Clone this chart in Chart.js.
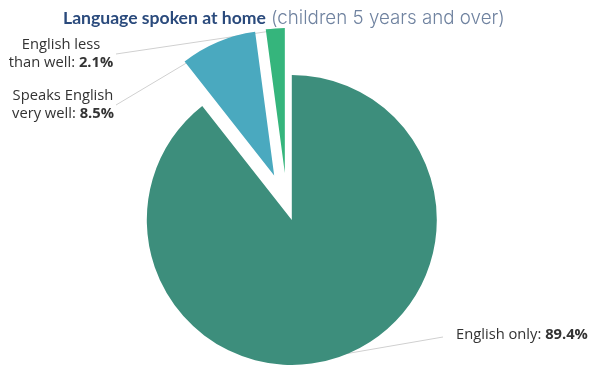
<!DOCTYPE html>
<html>
<head>
<meta charset="utf-8">
<script src="https://cdn.jsdelivr.net/npm/chart.js@4/dist/chart.umd.min.js"></script>
<style>
  html, body { margin: 0; padding: 0; background: #fff; }
  #wrap { position: relative; width: 592px; height: 368px; }
</style>
</head>
<body>
<div id="wrap"><canvas id="c" width="592" height="368"></canvas></div>
<script>
// ---- data ----
const categories = ['English only', 'Speaks English very well', 'English less than well'];
const values = [89.4, 8.5, 2.1];
const labelLines = [
  ['English only:'],
  ['Speaks English', 'very well:'],
  ['English less', 'than well:']
];
const valueLabels = ['89.4%', '8.5%', '2.1%'];
const titleMain = 'Language spoken at home';
const titleSub = '(children 5 years and over)';

// ---- styling ----
const colors = ['#3d8e7c', '#4aa9bf', '#35b57c'];
const explodePx = [14.7, 33, 33];      // visual explode distance of each slice
const R = 145;
const offsets = explodePx.map(d => d * 4);   // Chart.js translates by offset/4

// Chart.js also enlarges the radius and trims the arc angle of exploded
// slices; compensate so every slice keeps radius R and its true angle.
const explodeFix = {
  id: 'explodeFix',
  afterDatasetUpdate(chart, args) {
    const meta = chart.getDatasetMeta(args.index);
    meta.data.forEach((el, i) => {
      const t = offsets[i] / 4;
      const rO = t * (1 - Math.sin(Math.min(Math.PI, el.circumference)));
      el.outerRadius = R - rO;
      const extra = rO / (Math.PI * R) / 2;
      el.startAngle -= extra;
      el.endAngle += extra;
    });
  }
};

const labelFont = '"Open Sans", sans-serif';
const labelColor = '#333333';
const labelPlace = [
  { align: 'left',   x: 456, y: 335, lx: 443, ly: 337 },
  { align: 'center', x: 63,  y: 105, lx: 116, ly: 105 },
  { align: 'center', x: 61,  y: 54,  lx: 116, ly: 54 }
];
const lineH = 18;

function outerMid(el, i) {
  const half = (el.startAngle + el.endAngle) / 2;
  const d = offsets[i] / 4 + R - 2;
  return { x: el.x + Math.cos(half) * d, y: el.y + Math.sin(half) * d };
}

const calloutPlugin = {
  id: 'callouts',
  beforeDatasetsDraw(chart) {
    const ctx = chart.ctx;
    const arcs = chart.getDatasetMeta(0).data;
    ctx.save();
    ctx.strokeStyle = '#d0d0d0';
    ctx.lineWidth = 1;
    arcs.forEach((el, i) => {
      const p = outerMid(el, i);
      const L = labelPlace[i];
      ctx.beginPath();
      ctx.moveTo(L.lx, L.ly);
      ctx.lineTo(p.x, p.y);
      ctx.stroke();
    });
    ctx.restore();
  },
  afterDraw(chart) {
    const ctx = chart.ctx;
    ctx.save();
    ctx.font = '13px ' + labelFont;
    let wr = ctx.measureText(labelLines[0][0] + ' ').width;
    ctx.font = 'bold 13px ' + labelFont;
    wr += ctx.measureText(valueLabels[0]).width;
    const labelSize = 13 * 132 / wr;

    ctx.textBaseline = 'middle';
    ctx.fillStyle = labelColor;
    labelPlace.forEach((L, i) => {
      const lines = labelLines[i];
      const n = lines.length;
      const y0 = L.y - (n - 1) * lineH / 2;
      lines.forEach((txt, j) => {
        const y = y0 + j * lineH;
        const last = j === n - 1;
        ctx.font = labelSize + 'px ' + labelFont;
        const reg = last ? txt + ' ' : txt;
        const wReg = ctx.measureText(reg).width;
        let wBold = 0;
        if (last) {
          ctx.font = 'bold ' + labelSize + 'px ' + labelFont;
          wBold = ctx.measureText(valueLabels[i]).width;
        }
        const w = wReg + wBold;
        const x = L.align === 'left' ? L.x : L.x - w / 2;
        ctx.textAlign = 'left';
        ctx.font = labelSize + 'px ' + labelFont;
        ctx.fillText(reg, x, y);
        if (last) {
          ctx.font = 'bold ' + labelSize + 'px ' + labelFont;
          ctx.fillText(valueLabels[i], x + wReg, y);
        }
      });
    });

    // title
    ctx.textBaseline = 'alphabetic';
    ctx.textAlign = 'left';
    const mainFont = s => 'bold ' + s + 'px Lato, sans-serif';
    const subFont = s => '300 ' + s + 'px Inter, sans-serif';
    ctx.font = mainFont(16);
    const mSize = 16 * 203 / ctx.measureText(titleMain).width;
    ctx.font = subFont(16);
    const sSize = 16 * 234 / ctx.measureText(titleSub).width;
    const base = 24;
    ctx.font = mainFont(mSize);
    ctx.fillStyle = '#2a4a7c';
    ctx.fillText(titleMain, 63, base);
    ctx.font = subFont(sSize);
    ctx.fillStyle = '#7083a0';
    ctx.fillText(titleSub, 271, base);
    ctx.restore();
  }
};

new Chart(document.getElementById('c'), {
  type: 'pie',
  data: {
    labels: categories,
    datasets: [{
      data: values,
      backgroundColor: colors,
      borderWidth: 0,
      offset: offsets,
      radius: R,
      clip: false
    }]
  },
  options: {
    responsive: false,
    animation: false,
    layout: { padding: { left: 0, right: 18, top: 44, bottom: 0 } },
    plugins: {
      legend: { display: false },
      title: { display: false },
      tooltip: { enabled: false }
    },
    events: []
  },
  plugins: [explodeFix, calloutPlugin]
});
</script>
</body>
</html>
